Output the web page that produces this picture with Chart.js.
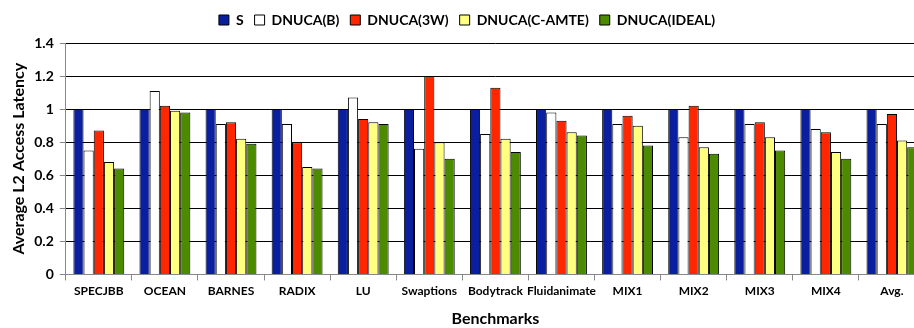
<!DOCTYPE html>
<html>
<head>
<meta charset="utf-8">
<script src="https://cdn.jsdelivr.net/npm/chart.js@4"></script>
<style>
  html, body { margin: 0; padding: 0; background: #fff; overflow: hidden; }
  #wrap { width: 930px; height: 328px; }
</style>
</head>
<body>
<div id="wrap"><canvas id="myChart"></canvas></div>
<script>
var benchmarks = ['SPECJBB', 'OCEAN', 'BARNES', 'RADIX', 'LU', 'Swaptions', 'Bodytrack', 'Fluidanimate', 'MIX1', 'MIX2', 'MIX3', 'MIX4', 'Avg.'];

var s      = [1, 1, 1, 1, 1, 1, 1, 1, 1, 1, 1, 1, 1];
var dnucaB = [0.75, 1.11, 0.91, 0.91, 1.07, 0.76, 0.85, 0.98, 0.91, 0.83, 0.91, 0.88, 0.91];
var dnuca3W = [0.87, 1.02, 0.92, 0.80, 0.94, 1.20, 1.13, 0.93, 0.96, 1.02, 0.92, 0.86, 0.97];
var dnucaCAmte = [0.68, 0.99, 0.82, 0.65, 0.92, 0.80, 0.82, 0.86, 0.90, 0.77, 0.83, 0.74, 0.81];
var dnucaIdeal = [0.64, 0.98, 0.79, 0.64, 0.91, 0.70, 0.74, 0.84, 0.78, 0.73, 0.75, 0.70, 0.77];

var yTicks = [0, 0.2, 0.4, 0.6, 0.8, 1, 1.2, 1.4];

var fontFam = "Lato, 'Open Sans', sans-serif";

function bars(label, data, color) {
  return {
    label: label,
    data: data,
    backgroundColor: color,
    borderColor: '#000',
    borderWidth: 1,
    borderSkipped: 'bottom',
    barPercentage: 1,
    categoryPercentage: 0.77
  };
}

// nudge the legend up a little without moving the plot area
var legendUp = {
  id: 'legendUp',
  afterLayout: function (chart) {
    chart.legend.top -= 6;
    chart.legend.bottom -= 6;
  }
};

var ctx = document.getElementById('myChart');

var myChart = new Chart(ctx, {
  type: 'bar',
  data: {
    labels: benchmarks,
    datasets: [
      bars('S', s, '#0A1F9F'),
      bars('DNUCA(B)', dnucaB, '#FFFFFF'),
      bars('DNUCA(3W)', dnuca3W, '#FF2600'),
      bars('DNUCA(C-AMTE)', dnucaCAmte, '#FFFF80'),
      bars('DNUCA(IDEAL)', dnucaIdeal, '#4C8A00')
    ]
  },
  plugins: [legendUp],
  options: {
    responsive: true,
    maintainAspectRatio: false,
    animation: false,
    layout: { padding: { left: 9, right: 5, top: 8, bottom: 0 } },
    plugins: {
      legend: {
        position: 'top',
        labels: {
          color: '#000',
          boxWidth: 10,
          boxHeight: 10,
          padding: 11,
          font: { family: fontFam, size: 14, weight: 'bold' }
        }
      },
      tooltip: { enabled: false }
    },
    scales: {
      x: {
        offset: true,
        grid: {
          offset: true,
          drawOnChartArea: false,
          drawTicks: true,
          tickLength: 6,
          color: '#888'
        },
        border: { color: '#888', width: 1 },
        ticks: {
          color: '#000',
          autoSkip: false,
          maxRotation: 0,
          padding: 4,
          font: { family: fontFam, size: 12, weight: 'bold' }
        },
        title: {
          display: true,
          text: 'Benchmarks',
          color: '#000',
          padding: { top: 6, bottom: 0 },
          font: { family: fontFam, size: 16, weight: 'bold' }
        }
      },
      y: {
        min: 0,
        max: 1.4,
        afterBuildTicks: function (axis) {
          axis.ticks = yTicks.map(function (v) { return { value: v }; });
        },
        grid: {
          color: function (c) { return c.tick && c.tick.value === 0 ? '#888' : '#000'; },
          tickColor: '#888',
          tickLength: 6,
          lineWidth: 1
        },
        border: { color: '#888', width: 1 },
        ticks: {
          color: '#000',
          padding: 6,
          callback: function (v) { return String(+v.toFixed(1)); },
          font: { family: fontFam, size: 14, weight: 'bold' }
        },
        title: {
          display: true,
          text: 'Average L2 Access Latency',
          color: '#000',
          padding: { top: 0, bottom: 0 },
          font: { family: fontFam, size: 16, weight: 'bold' }
        }
      }
    }
  }
});
</script>
</body>
</html>
